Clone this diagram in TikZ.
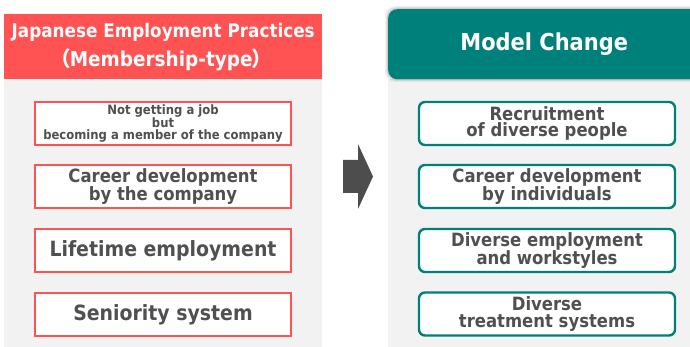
\documentclass[tikz,border=0pt]{standalone}
\usepackage{fontspec}
\setmainfont{DejaVu Sans}[FakeStretch=0.9]
\newfontfamily\cjk{Noto Sans CJK JP}
\definecolor{redc}{HTML}{FF5252}
\definecolor{tealc}{HTML}{00807B}
\definecolor{panel}{HTML}{F2F2F2}
\definecolor{txt}{HTML}{505050}
\definecolor{arrowc}{HTML}{4D4D4D}
\begin{document}
\begin{tikzpicture}[x=1pt,y=-1pt,
  box/.style={line width=2.4pt, fill=white, minimum width=256pt, minimum height=43pt,
    inner sep=0pt, align=center, text=txt, font=\bfseries},
  redbox/.style={box, draw=redc},
  tealbox/.style={box, draw=tealc, rounded corners=6pt},
  small/.style={font=\bfseries\fontsize{12.9}{11.6}\selectfont},
  mid/.style={font=\bfseries\fontsize{18.3}{16.9}\selectfont},
  big/.style={font=\bfseries\fontsize{21}{22}\selectfont},
]
\useasboundingbox (0,0) rectangle (690,347);
\clip (0,0) rectangle (690,347);
% panels
\fill[panel] (4,79) rectangle (322,350);
\fill[panel] (388,79) rectangle (700,350);
% left header
\node[fill=redc, minimum width=318pt, minimum height=65pt, anchor=north west, inner sep=0pt,
  text=white, align=center, font=\bfseries\fontsize{18.7}{29}\selectfont] (lhead) at (4,14)
  {Japanese Employment Practices\\{\fontsize{20.5}{29}\selectfont\hspace*{-4pt}{\cjk （}\hspace{-1pt}Membership-type\hspace{-1pt}{\cjk ）}}};
% right header with soft edge
\foreach \d/\o in {3/0.05,2/0.07,1/0.09}
  \fill[black, opacity=\o, rounded corners=10pt] (388-\d,9-\d) rectangle (705,79+\d);
\node[fill=tealc, rounded corners=9pt, minimum width=312pt, minimum height=70pt, anchor=north west,
  inner sep=0pt, text=white, font=\bfseries\fontsize{23.3}{28}\selectfont] (rhead) at (388,9)
  {Model Change};
% arrow
\fill[arrowc] (343,160) -- (358,160) -- (358,144) -- (373,176.5) -- (358,209) -- (358,193) -- (343,193) -- cycle;
% left boxes
\node[redbox, small] (l1) at (163,123.5) {Not getting a job\\but\\becoming a member of the company};
\node[redbox, mid] (l2) at (163,186.5) {Career development\\by the company};
\node[redbox, big] (l3) at (163,250.5) {Lifetime employment};
\node[redbox, big] (l4) at (163,314.5) {Seniority system};
% right boxes
\node[tealbox, mid] (r1) at (547,123.5) {Recruitment\\of diverse people};
\node[tealbox, mid] (r2) at (547,186.5) {Career development\\by individuals};
\node[tealbox, mid] (r3) at (547,250.5) {Diverse employment\\and workstyles};
\node[tealbox, mid] (r4) at (547,314) {Diverse\\treatment systems};
\end{tikzpicture}
\end{document}
